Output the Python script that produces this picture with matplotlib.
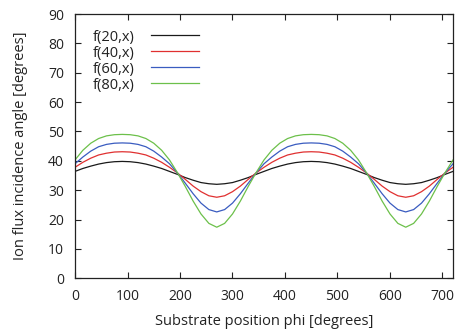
import matplotlib
matplotlib.use("Agg")
import matplotlib.pyplot as plt

plt.rcParams['font.family'] = ['Open Sans', 'DejaVu Sans']

phi = list(range(0, 721, 15))

f20 = [36.4, 37.4, 38.2, 38.9, 39.4, 39.7, 39.8, 39.7, 39.4, 38.9, 38.2, 37.4, 36.4,
       35.4, 34.3, 33.4, 32.6, 32.2, 32.0, 32.2, 32.6, 33.4, 34.3, 35.4, 36.4,
       37.4, 38.2, 38.9, 39.4, 39.7, 39.8, 39.7, 39.4, 38.9, 38.2, 37.4, 36.4,
       35.4, 34.3, 33.4, 32.6, 32.2, 32.0, 32.2, 32.6, 33.4, 34.3, 35.4, 36.4]
f40 = [37.8, 39.5, 40.9, 42.0, 42.6, 43.0, 43.1, 43.0, 42.6, 42.0, 40.9, 39.5, 37.8,
       35.9, 33.7, 31.4, 29.5, 28.1, 27.6, 28.1, 29.5, 31.4, 33.7, 35.9, 37.8,
       39.5, 40.9, 42.0, 42.6, 43.0, 43.1, 43.0, 42.6, 42.0, 40.9, 39.5, 37.8,
       35.9, 33.7, 31.4, 29.5, 28.1, 27.6, 28.1, 29.5, 31.4, 33.7, 35.9, 37.8]
f60 = [39.0, 41.3, 43.3, 44.8, 45.6, 46.0, 46.1, 46.0, 45.6, 44.8, 43.3, 41.3, 39.0,
       35.9, 32.4, 28.8, 25.6, 23.4, 22.6, 23.4, 25.6, 28.8, 32.4, 35.9, 39.0,
       41.3, 43.3, 44.8, 45.6, 46.0, 46.1, 46.0, 45.6, 44.8, 43.3, 41.3, 39.0,
       35.9, 32.4, 28.8, 25.6, 23.4, 22.6, 23.4, 25.6, 28.8, 32.4, 35.9, 39.0]
f80 = [40.3, 43.6, 46.0, 47.6, 48.5, 48.9, 49.0, 48.9, 48.5, 47.6, 46.0, 43.6, 40.3,
       36.0, 31.3, 26.3, 21.9, 18.7, 17.4, 18.7, 21.9, 26.3, 31.3, 36.0, 40.3,
       43.6, 46.0, 47.6, 48.5, 48.9, 49.0, 48.9, 48.5, 47.6, 46.0, 43.6, 40.3,
       36.0, 31.3, 26.3, 21.9, 18.7, 17.4, 18.7, 21.9, 26.3, 31.3, 36.0, 40.3]

labels = ["f(20,x)", "f(40,x)", "f(60,x)", "f(80,x)"]
colors = ["#1a1a1a", "#e03030", "#3a5cc0", "#6cc04a"]
series = [f20, f40, f60, f80]

xticks = [0, 100, 200, 300, 400, 500, 600, 700]
yticks = [0, 10, 20, 30, 40, 50, 60, 70, 80, 90]

fig = plt.figure(figsize=(4.56, 3.31), dpi=100)
ax = fig.add_axes([75/456, 1-278.3/331, (453-75)/456, (278.3-14)/331])

for y, c, l in zip(series, colors, labels):
    ax.plot(phi, y, color=c, lw=0.9, label=l)

ax.set_xlim(0, 720)
ax.set_ylim(0, 90)
ax.set_xticks(xticks)
ax.set_yticks(yticks)
ax.tick_params(direction='in', top=True, right=True, length=4, width=0.8,
               labelsize=10, colors='#222222')
ax.tick_params(axis='x', pad=8)
ax.tick_params(axis='y', pad=8)
for s in ax.spines.values():
    s.set_linewidth(0.9)
    s.set_color('#222222')

ax.set_xlabel("Substrate position phi [degrees]", fontsize=10.5, color='#222222', labelpad=7)
ax.set_ylabel("Ion flux incidence angle [degrees]", fontsize=10.5, color='#222222', labelpad=14)

leg = ax.legend(loc='upper left', bbox_to_anchor=((93-75)/378, (278.3-29.5)/264.3),
                frameon=False, markerfirst=False, fontsize=10.5, handlelength=3.3,
                handletextpad=1.1, labelspacing=0.07, borderpad=0, borderaxespad=0)
for t in leg.get_texts():
    t.set_color('#222222')

fig.savefig("out.png", dpi=100)
